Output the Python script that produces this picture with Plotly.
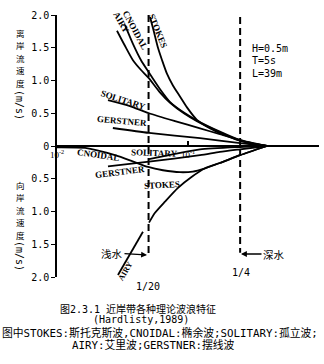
import plotly.graph_objects as go

# ---------------- data: relative depth h/L, bottom velocity (m/s); onshore plotted negative ----------------
airy_up_hl = [0.0287, 0.033, 0.038, 0.0438, 0.050, 0.061, 0.073, 0.093, 0.117, 0.175, 0.25, 0.32, 0.40]
airy_up_v = [1.76, 1.53, 1.31, 1.16, 1.04, 0.82, 0.66, 0.50, 0.38, 0.21, 0.08, 0.03, 0.0]

cnoidal_up_hl = [0.033, 0.038, 0.0438, 0.050, 0.061, 0.073, 0.093, 0.117, 0.175, 0.25, 0.32, 0.40]
cnoidal_up_v = [1.85, 1.56, 1.31, 1.13, 0.87, 0.67, 0.51, 0.39, 0.22, 0.09, 0.035, 0.0]

stokes_up_hl = [0.0513, 0.055, 0.059, 0.0634, 0.0692, 0.0769, 0.0866, 0.0982, 0.117, 0.161, 0.25, 0.40]
stokes_up_v = [1.97, 1.74, 1.50, 1.31, 1.10, 0.92, 0.76, 0.59, 0.40, 0.23, 0.08, 0.0]

solitary_up_hl = [0.0245, 0.036, 0.0504, 0.0796, 0.1236, 0.175, 0.25, 0.40]
solitary_up_v = [0.70, 0.61, 0.50, 0.38, 0.27, 0.18, 0.09, 0.0]

gerstner_up_hl = [0.0267, 0.0504, 0.1236, 0.25, 0.40]
gerstner_up_v = [0.275, 0.20, 0.12, 0.045, 0.0]

cnoidal_dn_hl = [0.01, 0.0164, 0.0277, 0.0374, 0.0496, 0.0644, 0.0869, 0.109, 0.135, 0.175, 0.25, 0.40]
cnoidal_dn_v = [-0.02, -0.03, -0.14, -0.23, -0.32, -0.37, -0.40, -0.39, -0.34, -0.26, -0.14, 0.0]

stokes_dn_hl = [0.0504, 0.056, 0.0667, 0.0839, 0.107, 0.135, 0.175, 0.25, 0.40]
stokes_dn_v = [-1.17, -1.02, -0.85, -0.64, -0.47, -0.34, -0.26, -0.14, 0.0]

solitary_dn_hl = [0.0504, 0.0796, 0.1236, 0.25, 0.40]
solitary_dn_v = [-0.20, -0.12, -0.05, -0.015, 0.0]

gerstner_dn_hl = [0.0245, 0.0504, 0.1236, 0.175, 0.25, 0.40]
gerstner_dn_v = [-0.31, -0.24, -0.14, -0.09, -0.05, 0.0]

airy_dn_hl = [0.0292, 0.0453]
airy_dn_v = [-1.97, -1.31]

boundary_hl = [0.05, 0.25]          # shallow / deep water limits
boundary_labels = ["1/20", "1/4"]
boundary_v_top = [2.0, 1.97]
boundary_v_bot = [-1.66, -1.63]

y_tickvals = [-2, -1.5, -1, -0.5, 0, 0.5, 1, 1.5, 2]
y_ticktext = ["2.0", "1.5", "1.0", "0.5", "0", "0.5", "1.0", "1.5", "2.0"]
x_tickvals = [0.01, 0.1, 1]
x_ticktext = ["10<sup>-2</sup>", "10<sup>-1</sup>", " "]

params = ["H=0.5m", "T=5s", "L=39m"]
y_title_up = "离岸流速度"
y_title_dn = "向岸流速度"
y_unit = "(m/s)"
caption = ["图2.3.1 近岸带各种理论波浪特征", "(Hardlisty,1989)",
           "图中STOKES:斯托克斯波,CNOIDAL:椭余波;SOLITARY:孤立波;",
           "AIRY:艾里波;GERSTNER:摆线波"]

# ---------------- figure ----------------
L, R, T, B = 57, 5, 15, 87
W, H = 324, 364
PW, PH = W - L - R, H - T - B


def px(x):
    return (x - L) / PW


def py(y):
    return (T + PH - y) / PH


MONO = "DejaVu Sans Mono, Noto Sans CJK SC"
SERIF = "Liberation Serif, DejaVu Serif"
CJK = "Noto Sans CJK SC"

fig = go.Figure()

curves = [
    (airy_up_hl, airy_up_v), (cnoidal_up_hl, cnoidal_up_v), (stokes_up_hl, stokes_up_v),
    (solitary_up_hl, solitary_up_v), (gerstner_up_hl, gerstner_up_v),
    (cnoidal_dn_hl, cnoidal_dn_v), (stokes_dn_hl, stokes_dn_v),
    (solitary_dn_hl, solitary_dn_v), (gerstner_dn_hl, gerstner_dn_v),
    (airy_dn_hl, airy_dn_v),
]
for xs, ys in curves:
    fig.add_trace(go.Scatter(x=xs, y=ys, mode="lines",
                             line=dict(color="black", width=1.8, shape="spline", smoothing=0.6),
                             showlegend=False, hoverinfo="skip"))

for bx, yt, yb in zip(boundary_hl, boundary_v_top, boundary_v_bot):
    fig.add_trace(go.Scatter(x=[bx, bx], y=[yt, yb], mode="lines",
                             line=dict(color="black", width=2, dash="7px,4px"),
                             showlegend=False, hoverinfo="skip", cliponaxis=False))

ann = []


def label(text, x, y, angle=0, size=9, family=SERIF, bold=True, xanchor="center"):
    ann.append(dict(x=px(x), y=py(y), xref="paper", yref="paper", text=text,
                    textangle=angle, showarrow=False, xanchor=xanchor, yanchor="middle",
                    font=dict(family=family, size=size, color="black",
                              weight="bold" if bold else "normal")))


# curve labels (upper)
label("AIRY", 121, 22, 60)
label("CNOIDAL", 135, 30, 62)
label("STOKES", 158, 31, 68)
label("SOLITARY", 123, 100, 18)
label("GERSTNER", 122, 121, 5)
# curve labels (lower)
label("CNOIDAL", 98, 155, 8)
label("SOLITARY", 154, 153, 2)
label("GERSTNER", 120, 172, -7)
label("STOKES", 162, 185, -3)
label("AIRY", 125, 271, -60, size=8)

# wave parameters
for i, t in enumerate(params):
    label(t, 250, 48 + 12.5 * i, size=10, family=MONO, bold=False, xanchor="left")

# boundary labels
label(boundary_labels[0], 148, 286, size=10, family=MONO, bold=False)
label(boundary_labels[1], 241, 272, size=10, family=MONO, bold=False)

# shallow / deep water labels with arrows pointing at the limits
ann.append(dict(x=px(147), y=py(255), xref="paper", yref="paper", showarrow=True,
                text="浅水", ax=-35, ay=-2, arrowhead=2, arrowsize=0.9, arrowwidth=1.3,
                arrowcolor="black", standoff=0,
                font=dict(family=CJK, size=10.5, color="black")))
ann.append(dict(x=px(241), y=py(254), xref="paper", yref="paper", showarrow=True,
                text="深水", ax=33, ay=0, arrowhead=2, arrowsize=0.9, arrowwidth=1.3,
                arrowcolor="black", standoff=0,
                font=dict(family=CJK, size=10.5, color="black")))

# y-axis titles (vertical typesetting: upright CJK, rotated unit)
STEP = 12.4
for i, ch in enumerate(y_title_up):
    label(ch, 20, 33 + STEP * i, size=8.5, family=CJK, bold=False)
label(y_unit, 20, 105, angle=90, size=10, family=MONO, bold=False)
for i, ch in enumerate(y_title_dn):
    label(ch, 20, 185 + STEP * i, size=8.5, family=CJK, bold=False)
label(y_unit, 20, 256, angle=90, size=10, family=MONO, bold=False)

# caption
label(caption[0], 138, 309, size=10, family=MONO, bold=False)
label(caption[1], 141, 320, size=10, family=MONO, bold=False)
label(caption[2], 160, 333, size=10.8, family=MONO, bold=False)
label(caption[3], 153, 345, size=10.8, family=MONO, bold=False)

fig.update_layout(
    width=W, height=H,
    margin=dict(l=L, r=R, t=T, b=B, pad=0),
    paper_bgcolor="white", plot_bgcolor="white",
    showlegend=False,
    annotations=ann,
    xaxis=dict(type="log", range=[-2, 0], anchor="free", position=0.5,
               showline=True, linewidth=2, linecolor="black",
               ticks="inside", ticklen=4, tickwidth=1.5, tickcolor="black",
               tickvals=x_tickvals, ticktext=x_ticktext,
               tickfont=dict(family=SERIF, size=9, color="black"),
               showgrid=False, zeroline=False),
    yaxis=dict(range=[-2, 2], showline=True, linewidth=1.5, linecolor="black",
               ticks="outside", ticklen=4, tickwidth=1.2, tickcolor="black",
               tickvals=y_tickvals, ticktext=y_ticktext,
               tickfont=dict(family=MONO, size=10, color="black"),
               showgrid=False, zeroline=False),
)

fig.write_html("out.html", config={"displayModeBar": False})
